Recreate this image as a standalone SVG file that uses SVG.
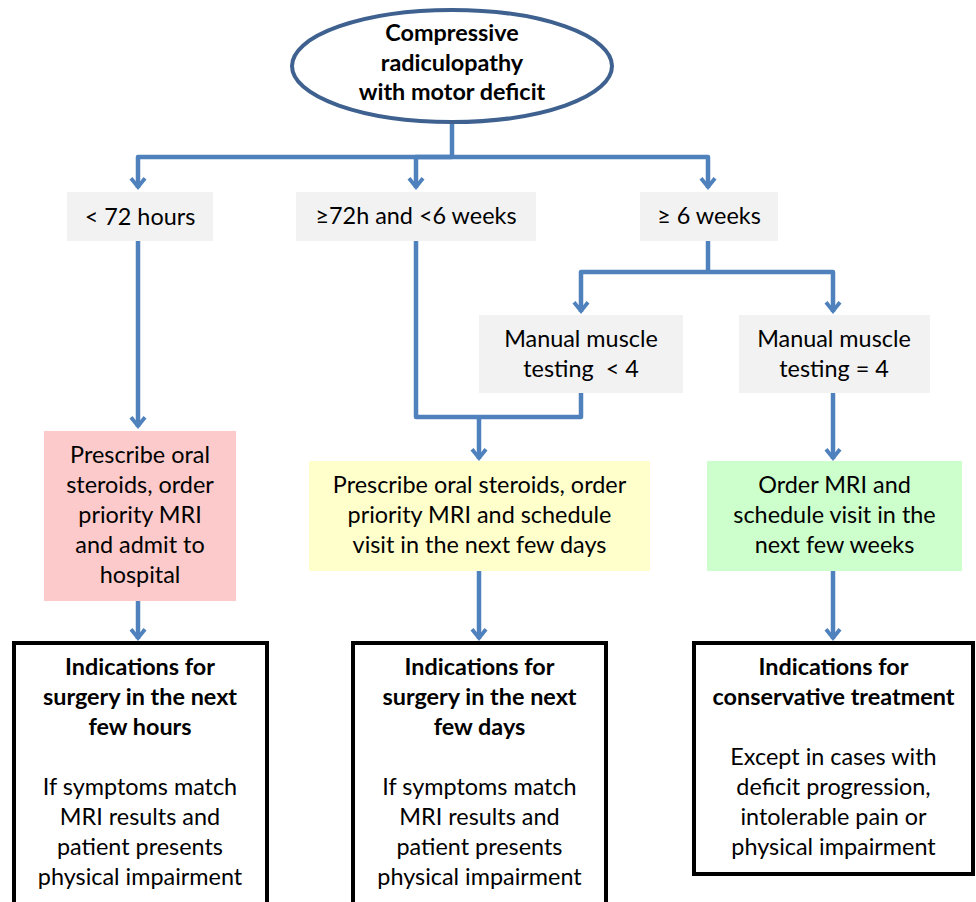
<svg xmlns="http://www.w3.org/2000/svg" width="976" height="902" viewBox="0 0 976 902">
<style>
  .t { font-family: Lato, "Liberation Sans", sans-serif; font-size: 23.4px; fill: #000; text-anchor: middle; }
  .b { font-weight: bold; }
  .grey { fill: #F2F2F2; }
  .out { fill: #FFFFFF; stroke: #000; stroke-width: 4; }
  .conn path { fill: none; stroke: #4F81BD; stroke-width: 4.5; stroke-linejoin: round; }
</style>
<defs>
  <marker id="ah" markerUnits="userSpaceOnUse" viewBox="-16 -10 18 20" markerWidth="18" markerHeight="20" refX="-2" refY="0" orient="auto" overflow="visible">
    <polygon points="0,0 -10.5,-8.5 -13,-5.5 -6,0 -13,5.5 -10.5,8.5" fill="#4F81BD"/>
  </marker>
</defs>
<rect width="976" height="902" fill="#FFFFFF"/>

<g class="conn">
  <path d="M452,123 V157"/>
  <path d="M452,157 H138 V188" marker-end="url(#ah)"/>
  <path d="M452,157 H416 V188" marker-end="url(#ah)"/>
  <path d="M452,157 H708 V188" marker-end="url(#ah)"/>
  <path d="M138,241 V427" marker-end="url(#ah)"/>
  <path d="M138,601 V639" marker-end="url(#ah)"/>
  <path d="M416,241 V417 H581 V393"/>
  <path d="M479,417 V459" marker-end="url(#ah)"/>
  <path d="M479,571 V639" marker-end="url(#ah)"/>
  <path d="M708,241 V272"/>
  <path d="M708,272 H581 V312" marker-end="url(#ah)"/>
  <path d="M708,272 H833 V312" marker-end="url(#ah)"/>
  <path d="M833,393 V459" marker-end="url(#ah)"/>
  <path d="M833,571 V639" marker-end="url(#ah)"/>
</g>

<g id="start">
  <ellipse cx="452" cy="66" rx="160" ry="56" fill="#FFFFFF" stroke="#3F6190" stroke-width="4"/>
  <text class="t b" x="452" y="41">Compressive</text>
  <text class="t b" x="452" y="71">radiculopathy</text>
  <text class="t b" x="452" y="100">with motor deficit</text>
</g>

<g id="lt72">
  <rect class="grey" x="67" y="192" width="146" height="49"/>
  <text class="t" x="140" y="225">&lt; 72 hours</text>
</g>
<g id="mid">
  <rect class="grey" x="296" y="192" width="240" height="49"/>
  <text class="t" x="416" y="224">≥72h and &lt;6 weeks</text>
</g>
<g id="ge6">
  <rect class="grey" x="640" y="192" width="138" height="49"/>
  <text class="t" x="709" y="224">≥ 6 weeks</text>
</g>

<g id="mmt-lt4">
  <rect class="grey" x="479" y="315" width="204" height="78"/>
  <text class="t" x="581" y="347">Manual muscle</text>
  <text class="t" x="581" y="377" xml:space="preserve">testing  &lt; 4</text>
</g>
<g id="mmt-eq4">
  <rect class="grey" x="739" y="315" width="191" height="78"/>
  <text class="t" x="834" y="347">Manual muscle</text>
  <text class="t" x="834" y="377">testing = 4</text>
</g>

<g id="pink">
  <rect x="44" y="431" width="192" height="170" fill="#FCCACA"/>
  <text class="t" x="140" y="463">Prescribe oral</text>
  <text class="t" x="140" y="493">steroids, order</text>
  <text class="t" x="140" y="523">priority MRI</text>
  <text class="t" x="140" y="553">and admit to</text>
  <text class="t" x="140" y="583">hospital</text>
</g>
<g id="yellow">
  <rect x="309" y="461" width="341" height="110" fill="#FFFFCC"/>
  <text class="t" x="479.5" y="493">Prescribe oral steroids, order</text>
  <text class="t" x="479.5" y="523">priority MRI and schedule</text>
  <text class="t" x="479.5" y="553">visit in the next few days</text>
</g>
<g id="green">
  <rect x="707" y="461" width="255" height="110" fill="#CCFFCC"/>
  <text class="t" x="834.5" y="493">Order MRI and</text>
  <text class="t" x="834.5" y="523">schedule visit in the</text>
  <text class="t" x="834.5" y="553">next few weeks</text>
</g>

<g id="out-hours">
  <rect class="out" x="14" y="643" width="253" height="270"/>
  <text class="t b" x="140" y="675">Indications for</text>
  <text class="t b" x="140" y="705">surgery in the next</text>
  <text class="t b" x="140" y="735">few hours</text>
  <text class="t" x="140" y="795">If symptoms match</text>
  <text class="t" x="140" y="825">MRI results and</text>
  <text class="t" x="140" y="855">patient presents</text>
  <text class="t" x="140" y="885">physical impairment</text>
</g>
<g id="out-days">
  <rect class="out" x="353" y="643" width="253" height="270"/>
  <text class="t b" x="479.5" y="675">Indications for</text>
  <text class="t b" x="479.5" y="705">surgery in the next</text>
  <text class="t b" x="479.5" y="735">few days</text>
  <text class="t" x="479.5" y="795">If symptoms match</text>
  <text class="t" x="479.5" y="825">MRI results and</text>
  <text class="t" x="479.5" y="855">patient presents</text>
  <text class="t" x="479.5" y="885">physical impairment</text>
</g>
<g id="out-conservative">
  <rect class="out" x="694" y="643" width="279" height="231"/>
  <text class="t b" x="833.5" y="675">Indications for</text>
  <text class="t b" x="833.5" y="705">conservative treatment</text>
  <text class="t" x="833.5" y="765">Except in cases with</text>
  <text class="t" x="833.5" y="795">deficit progression,</text>
  <text class="t" x="833.5" y="825">intolerable pain or</text>
  <text class="t" x="833.5" y="855">physical impairment</text>
</g>
</svg>
